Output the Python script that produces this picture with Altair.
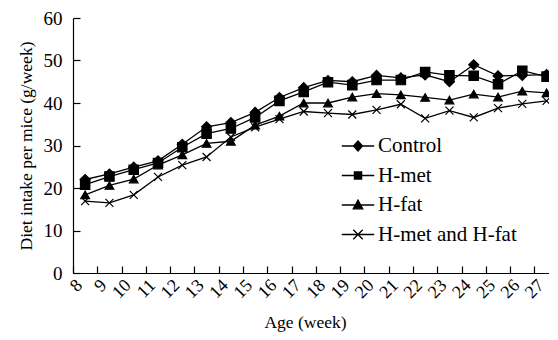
import altair as alt
import pandas as pd

weeks = [8.5, 9.5, 10.5, 11.5, 12.5, 13.5, 14.5, 15.5, 16.5, 17.5,
         18.5, 19.5, 20.5, 21.5, 22.5, 23.5, 24.5, 25.5, 26.5, 27.5]
groups = ["Control", "H-met", "H-fat", "H-met and H-fat"]
control = [22.0, 23.3, 24.9, 26.4, 30.3, 34.4, 35.4, 37.8, 41.3, 43.6,
           45.3, 45.0, 46.5, 45.9, 46.6, 45.0, 49.0, 46.4, 46.5, 46.7]
h_met = [20.8, 22.7, 24.3, 25.9, 29.6, 32.8, 34.0, 36.6, 40.5, 42.6,
         44.9, 44.2, 45.4, 45.4, 47.3, 46.5, 46.4, 44.4, 47.6, 46.2]
h_fat = [18.4, 20.6, 22.1, 25.4, 27.8, 30.5, 31.0, 34.8, 36.9, 40.0,
         40.0, 41.4, 42.2, 41.9, 41.3, 40.7, 42.1, 41.4, 42.8, 42.4]
h_both = [16.9, 16.5, 18.4, 22.6, 25.4, 27.3, 32.0, 34.3, 36.2, 38.0,
          37.6, 37.3, 38.4, 39.7, 36.4, 38.2, 36.6, 38.8, 39.8, 40.5]
x_ticks = list(range(8, 28))
y_ticks = [0, 10, 20, 30, 40, 50, 60]

rows = []
for g, vals in zip(groups, [control, h_met, h_fat, h_both]):
    for w, v in zip(weeks, vals):
        rows.append({"week": w, "intake": v, "group": g})
df = pd.DataFrame(rows)

FONT = "Liberation Serif"
W, H = 476, 255

point_shapes = ["diamond", "square", "triangle-up", "M-1,-1L1,1M-1,1L1,-1"]
point_sizes = [100, 64, 95, 90]
line_part = "M-3.6,0L3.6,0"
legend_paths = [
    line_part + "M-1,0L0,-1.1L1,0L0,1.1Z",
    line_part + "M-0.8,-0.8L0.8,-0.8L0.8,0.8L-0.8,0.8Z",
    line_part + "M0,-1.1L1.05,0.85L-1.05,0.85Z",
    line_part + "M-1.05,-1.05L1.05,1.05M-1.05,1.05L1.05,-1.05",
]

x_scale = alt.Scale(domain=[8, 27.6], nice=False, zero=False)
y_scale = alt.Scale(domain=[0, 60], nice=False)

base = alt.Chart(df)

lines = base.mark_line(color="black", strokeWidth=1.3).encode(
    x=alt.X("week:Q", scale=x_scale,
            axis=alt.Axis(values=x_ticks, ticks=False, labelAngle=315,
                          labelAlign="right", labelBaseline="top",
                          labelPadding=3, labelFlush=False, labelOverlap=False,
                          labelFontSize=18,
                          title="Age (week)", titlePadding=12, titleX=232)),
    y=alt.Y("intake:Q", scale=y_scale,
            axis=alt.Axis(values=y_ticks, ticks=False, labelPadding=11,
                          labelFlush=False, labelOverlap=False,
                          title="Diet intake per mice (g/week)", titlePadding=8)),
    detail="group:N",
)

points = base.mark_point(filled=True, fill="black", stroke="black",
                         strokeWidth=1.2, opacity=1).encode(
    x=alt.X("week:Q", scale=x_scale,
            axis=alt.Axis(orient="top", offset=-H, values=x_ticks, labels=False,
                          domain=False, tickSize=7, title=None)),
    y=alt.Y("intake:Q", scale=y_scale,
            axis=alt.Axis(orient="right", offset=-W, values=y_ticks, labels=False,
                          domain=False, tickSize=7, title=None)),
    shape=alt.Shape("group:N", scale=alt.Scale(domain=groups, range=point_shapes),
                    legend=None),
    size=alt.Size("group:N", scale=alt.Scale(domain=groups, range=point_sizes),
                  legend=None),
)

legend_layer = base.transform_filter("false").mark_point(
    filled=True, fill="black", stroke="black", strokeWidth=1.3, size=81, opacity=1
).encode(
    shape=alt.Shape("group:N", scale=alt.Scale(domain=groups, range=legend_paths),
                    legend=alt.Legend(orient="none", legendX=274.5, legendY=117.5,
                                      title=None, labelFont=FONT, labelFontSize=21,
                                      labelColor="black", labelOffset=9.5,
                                      rowPadding=7.5, symbolSize=81, padding=0,
                                      symbolStrokeWidth=1.3)),
)

chart = alt.layer(lines, points, legend_layer).resolve_scale(
    shape="independent", size="independent"
).resolve_axis(x="independent", y="independent").properties(
    width=W, height=H,
    autosize=alt.AutoSizeParams(type="none"),
    padding={"left": 65, "top": 10, "right": 0, "bottom": 64},
).configure_view(stroke=None).configure_axis(
    grid=False, domainColor="black", tickColor="black", labelColor="black",
    titleColor="black", labelFont=FONT, titleFont=FONT, labelFontSize=19,
    titleFontSize=17.5, titleFontWeight="normal", domainWidth=1.2, tickWidth=1.2,
)

chart.save("out.html", embed_options={"renderer": "svg", "actions": False})
